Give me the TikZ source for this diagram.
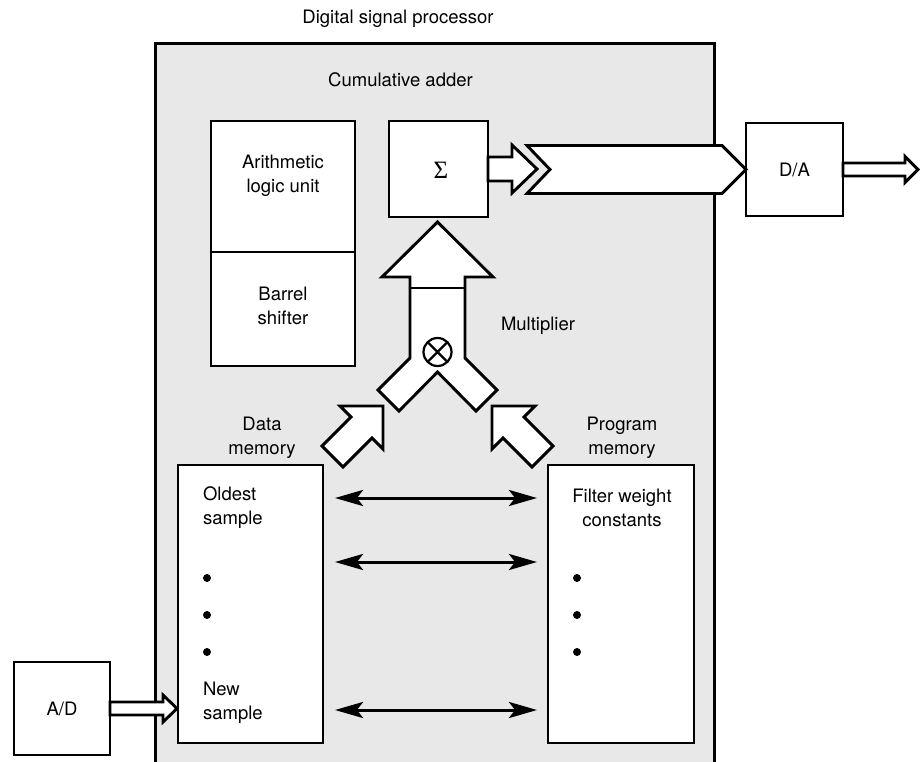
\documentclass[tikz,border=0pt]{standalone}
\usepackage{fontspec}
\setmainfont{TeX Gyre Heros}
\newfontfamily\sigfont{Liberation Serif}
\usetikzlibrary{arrows.meta,calc}
\begin{document}
\begin{tikzpicture}[x=1pt,y=-1pt,
  every node/.style={font=\fontsize{18.5}{24}\selectfont, inner sep=0pt, outer sep=0pt},
  box/.style={draw, line width=2.9pt, fill=white, rectangle},
  frame/.style={line width=3pt},
  dspbg/.style={fill=black!9, draw=none, rectangle},
  blockarrow/.style={draw, line width=2.9pt, fill=white, line join=miter},
  dbl/.style={line width=3pt, {Stealth[length=28pt,width=16pt,inset=6pt]}-{Stealth[length=28pt,width=16pt,inset=6pt]}},
  dotmark/.style={circle, fill=black, minimum size=8pt}
]
\useasboundingbox (0,0) rectangle (924,761);

% DSP enclosure (open at the bottom)
\node[dspbg, minimum width=559pt, minimum height=730pt] (dsp) at (434.5,408) {};
\draw[frame] (dsp.south west) -- (dsp.north west) -- (dsp.north east) -- (dsp.south east);

\node (title) at (398,19) {Digital signal processor};
\node (cumlabel) at (400.5,80) {Cumulative adder};

% ALU / barrel shifter
\node[box, minimum width=144pt, minimum height=131pt] (alu) at (283,186.5) {};
\node[align=center] (alutext) at (283,176) {Arithmetic\\logic unit};
\node[box, minimum width=144pt, minimum height=114pt] (barrel) at (283,309) {};
\node[align=center] (barreltext) at (283,306) {Barrel\\shifter};

% Sigma
\node[box, minimum width=99pt, minimum height=96pt] (sigma) at (438.5,169) {};
\node[font={\sigfont\fontsize{25}{26}\selectfont}] (sigmatext) at (441,170) {Σ};

% D/A and A/D
\node[box, minimum width=97pt, minimum height=93pt] (da) at (794.5,169.5) {D/A};
\node[box, minimum width=96pt, minimum height=93pt] (ad) at (62,708.5) {A/D};

% memories
\node[box, minimum width=145pt, minimum height=278pt] (datamem) at (250.5,604) {};
\node[box, minimum width=146pt, minimum height=278pt] (progmem) at (621,604) {};
\node[align=center] (datalabel) at (262,438) {Data\\memory};
\node[align=center] (proglabel) at (622,438) {Program\\memory};
\node[align=left, anchor=west] (oldest) at (203,508) {Oldest\\sample};
\node[align=left, anchor=west] (newest) at (203,703) {New\\sample};
\node[align=center] (filter) at (622,508) {Filter weight\\constants};
\node[dotmark] (dd1) at (207,578) {};
\node[dotmark] (dd2) at (207,615) {};
\node[dotmark] (dd3) at (207,652) {};
\node[dotmark] (pd1) at (577,578) {};
\node[dotmark] (pd2) at (577,615) {};
\node[dotmark] (pd3) at (577,652) {};

% data exchange arrows
\draw[dbl] ($(datamem.north east)+(12,33)$) -- ($(progmem.north west)+(-11,33)$);
\draw[dbl] ($(datamem.north east)+(12,97)$) -- ($(progmem.north west)+(-11,97)$);
\draw[dbl] ($(datamem.north east)+(12,245)$) -- ($(progmem.north west)+(-11,245)$);

% A/D -> data memory
\draw[blockarrow] (ad.east) ++(0,-6.5) -- ++(53,0) -- ++(0,-7) -- ++(14,13.5) -- ++(-14,13.5) -- ++(0,-7) -- ++(-53,0) -- cycle;

% Sigma -> bus -> D/A
\draw[blockarrow] (sigma.east) ++(0,-12) -- ++(24,0) -- ++(0,-12) -- ++(25,24) -- ++(-25,24) -- ++(0,-12) -- ++(-24,0) -- cycle;
\draw[blockarrow] (da.west) -- ++(-24,24) -- ++(-195,0) -- ++(23,-24) -- ++(-23,-24) -- ++(195,0) -- cycle;

% D/A output
\draw[blockarrow] (da.east) ++(0,-6.5) -- ++(62,0) -- ++(0,-6.5) -- ++(13,13) -- ++(-13,13) -- ++(0,-6.5) -- ++(-62,0) -- cycle;

% multiplier
\coordinate (mulc) at (437.5,352);
\begin{scope}[shift={(mulc)}]
  \draw[blockarrow] (0,-130) -- (55.5,-75) -- (27.5,-75) -- (27.5,6) -- (59.5,38) -- (38.5,59) -- (0,20)
     -- (-38.5,59) -- (-59.5,38) -- (-27.5,6) -- (-27.5,-75) -- (-55.5,-75) -- cycle;
  \draw[line width=2.9pt] (-27.5,-64) -- (27.5,-64);
  % input arrows
  \draw[blockarrow] (-54.5,54) -- ++(0,43) -- ++(-11,-11) -- ++(-29,29) -- ++(-21,-21) -- ++(29,-29) -- ++(-11,-11) -- cycle;
  \draw[blockarrow] (54.5,54) -- ++(0,43) -- ++(11,-11) -- ++(29,29) -- ++(21,-21) -- ++(-29,-29) -- ++(11,-11) -- cycle;
\end{scope}
\node[draw, circle, line width=2.2pt, minimum size=28pt, fill=white] (mult) at (mulc) {};
\draw[line width=2.2pt] (mult.north west) -- (mult.south east);
\draw[line width=2.2pt] (mult.north east) -- (mult.south west);
\node (multlabel) at (538,326) {Multiplier};
\end{tikzpicture}
\end{document}
